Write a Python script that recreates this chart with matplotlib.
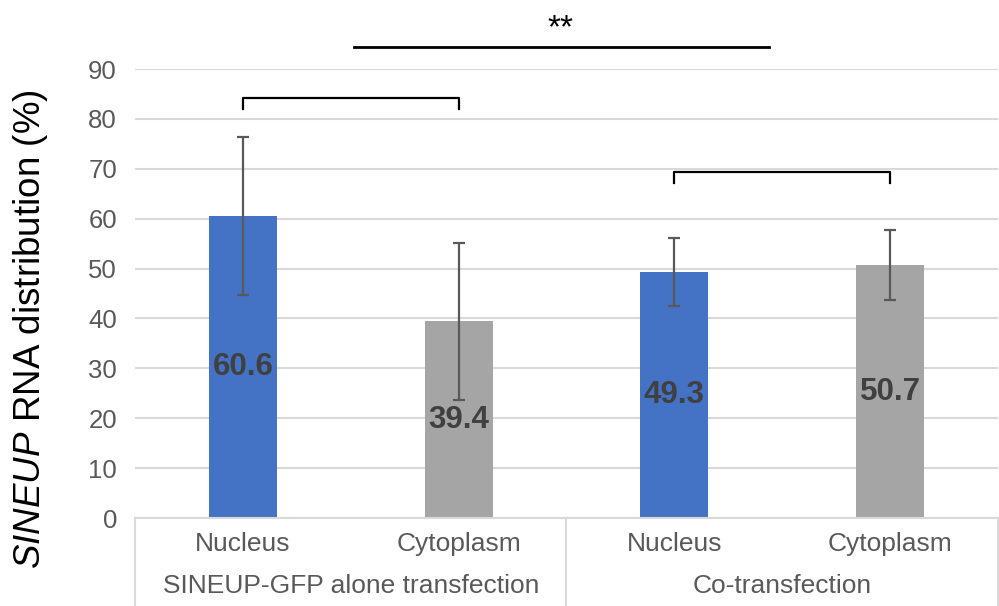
import matplotlib.pyplot as plt

plt.rcParams['font.family'] = ['Liberation Sans', 'DejaVu Sans']
plt.rcParams['mathtext.fontset'] = 'custom'
plt.rcParams['mathtext.it'] = 'Liberation Sans:italic'
plt.rcParams['mathtext.rm'] = 'Liberation Sans'

fractions = ['Nucleus', 'Cytoplasm', 'Nucleus', 'Cytoplasm']
groups = ['SINEUP-GFP alone transfection', 'Co-transfection']
values = [60.6, 39.4, 49.3, 50.7]
errors = [15.8, 15.8, 6.9, 7.0]
colors = ['#4472C4', '#A5A5A5', '#4472C4', '#A5A5A5']

fig = plt.figure(figsize=(9.99, 6.06), dpi=100)
ax = fig.add_axes([0.1351, 0.1452, 0.8639, 0.7409])

x = list(range(len(values)))
ax.bar(x, values, width=0.315, color=colors, zorder=2)
ax.errorbar(x, values, yerr=errors, fmt='none', ecolor='#595959',
            elinewidth=1.6, capsize=4.5, capthick=1.6, zorder=3)

for xi, v in zip(x, values):
    ax.text(xi, v / 2, f'{v}', ha='center', va='center', fontsize=22.5,
            fontweight='bold', color='#404040', zorder=4)

ax.set_xlim(-0.5, 3.5)
ax.set_ylim(0, 90)
ax.set_yticks(range(0, 91, 10))
ax.yaxis.grid(True, color='#d9d9d9', lw=1.5, zorder=0)
ax.tick_params(axis='y', length=0, pad=13, labelsize=18.5, labelcolor='#595959')
ax.set_xticks([])
for s in ['top', 'right', 'left']:
    ax.spines[s].set_visible(False)
ax.spines['bottom'].set_color('#d9d9d9')
ax.spines['bottom'].set_linewidth(1.5)

# two-level category labels under the axis
xt = ax.get_xaxis_transform()
for xi, name in zip(x, fractions):
    ax.text(xi, -0.058, name, transform=xt, ha='center', va='center',
            fontsize=19, color='#595959')
for gi, name in enumerate(groups):
    ax.text(gi * 2 + 0.5, -0.151, name, transform=xt, ha='center', va='center',
            fontsize=19, color='#595959')
for xv in [-0.5, 1.5, 3.5]:
    ax.plot([xv, xv], [0, -0.2], transform=xt, color='#d9d9d9', lw=1.5,
            clip_on=False)

ax.set_ylabel(r'$\mathit{SINEUP}$ RNA distribution (%)', fontsize=26.5)
ax.yaxis.set_label_coords(-0.098, 0.42)

# significance brackets
ax.plot([0, 0, 1, 1], [82.0, 84.1, 84.1, 82.0], color='black', lw=1.6,
        solid_joinstyle='round', clip_on=False)
ax.plot([2, 2, 3, 3], [67.1, 69.3, 69.3, 67.1], color='black', lw=1.6,
        solid_joinstyle='round', clip_on=False)
ax.plot([0.513, 2.44], [94.4, 94.4], color='black', lw=2, clip_on=False)
ax.text(1.47, 98.0, '**', ha='center', va='center', fontsize=24,
        color='black')

fig.savefig('out.png', dpi=100)
